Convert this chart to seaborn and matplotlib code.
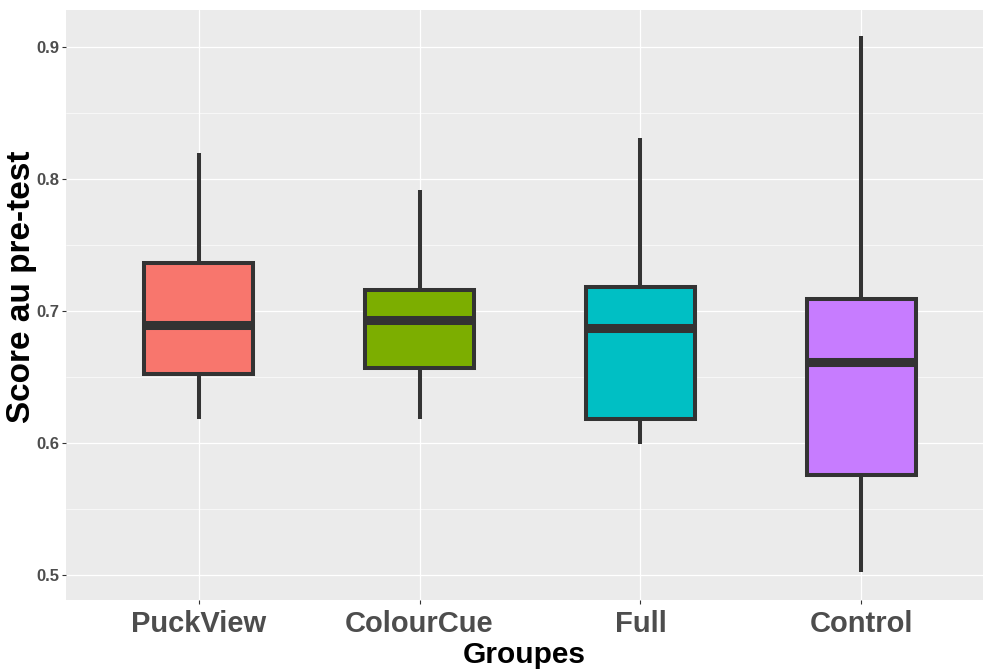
"""Boxplot of pre-test scores per group (ggplot look)."""
import numpy as np
import pandas as pd
import matplotlib
matplotlib.use('Agg')
import matplotlib.pyplot as plt
import seaborn as sns
from matplotlib.ticker import MultipleLocator

groups = ['PuckView', 'ColourCue', 'Full', 'Control']
colors = ['#F8766D', '#7CAE00', '#00BFC4', '#C77CFF']

# min, Q1, median, Q3, max
puckview = [0.618, 0.652, 0.689, 0.736, 0.820]
colourcue = [0.618, 0.657, 0.693, 0.716, 0.792]
full = [0.599, 0.618, 0.687, 0.718, 0.831]
control = [0.502, 0.576, 0.661, 0.709, 0.908]

df = pd.DataFrame({
    'group': np.repeat(groups, 5),
    'score': puckview + colourcue + full + control,
})

sns.set_theme(style='darkgrid')
plt.rcParams['font.family'] = ['Liberation Sans', 'DejaVu Sans']

fig = plt.figure(figsize=(9.83, 6.71), dpi=100)
# panel runs a little past the right edge, as in the reference
ax = fig.add_axes([66 / 983, 71 / 671, 928 / 983, 590 / 671])
ax.set_facecolor('#EBEBEB')

edge = '#333333'
sns.boxplot(data=df, x='group', y='score', hue='group', palette=colors,
            order=groups, width=0.49, whis=(0, 100), ax=ax, legend=False,
            saturation=1, linecolor=edge, linewidth=2.9,
            medianprops=dict(linewidth=6.5, color=edge),
            capprops=dict(linewidth=0), zorder=3)

ax.set_xlim(-0.6, 3.6)
ax.set_ylim(0.481, 0.928)
ax.yaxis.set_major_locator(MultipleLocator(0.1))
ax.yaxis.set_minor_locator(MultipleLocator(0.05))
ax.grid(which='major', color='white', linewidth=0.9)
ax.grid(which='minor', axis='y', color='white', linewidth=0.45)
ax.set_axisbelow(True)
for s in ax.spines.values():
    s.set_visible(False)

ax.tick_params(axis='both', which='major', length=3, width=0.8, color='#333333',
               labelcolor='#4D4D4D', bottom=True, left=True)
ax.tick_params(axis='both', which='minor', length=0)
ax.tick_params(axis='y', labelsize=12, pad=2)
ax.tick_params(axis='x', labelsize=21, pad=4)
for lab in ax.get_xticklabels() + ax.get_yticklabels():
    lab.set_fontweight('bold')
ax.set_yticklabels([f'{v:.1f}' for v in ax.get_yticks()])

ax.set_xlabel('Groupes', fontsize=21.5, fontweight='bold', color='black')
ax.set_ylabel('Score au pre-test', fontsize=24, fontweight='bold', color='black')
ax.yaxis.label.set_va('center')
ax.xaxis.label.set_va('center')
ax.xaxis.set_label_coords((524 - 66) / 928, -(656 - 601) / 590)
ax.yaxis.set_label_coords(-(66 - 22) / 928, (671 - 287 - 71) / 590)

fig.savefig('out.png', dpi=100)
